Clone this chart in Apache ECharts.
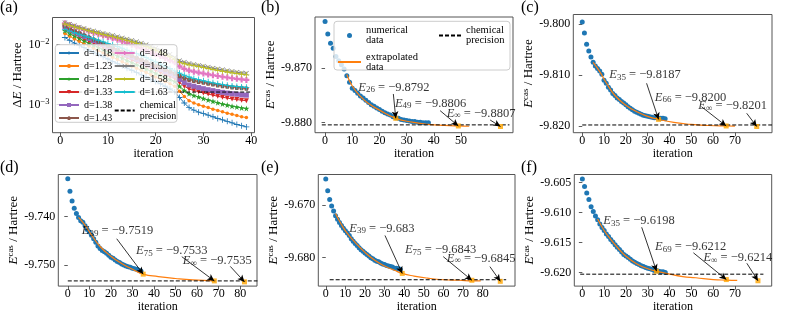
<!DOCTYPE html>
<html lang="en">
<head>
    <meta charset="UTF-8">
    <title>CAS energy convergence</title>
    <style>
        html, body { margin: 0; padding: 0; background: #fff; }
        #main { width: 785px; height: 314px; }
    </style>
</head>
<body>
<div id="main"></div>
<script src="https://cdn.jsdelivr.net/npm/echarts@6.0.0/dist/echarts.min.js"></script>
<script>
// ---------- data ----------
// (a) energy error vs iteration (1..39) for each bond length, in mHa
var bondLabels = ['d=1.18', 'd=1.23', 'd=1.28', 'd=1.33', 'd=1.38', 'd=1.43', 'd=1.48', 'd=1.53', 'd=1.58', 'd=1.63'];
var dE118 = [13.0,11.6,10.5,9.6,8.8,8.1,7.4,6.8,6.2,5.7, 5.2,4.8,4.4,4.0,3.7,3.4,3.1,2.85,2.6,2.4, 2.2,2.0,1.8,1.6,1.3,1.05,0.88,0.8,0.74,0.7, 0.66,0.62,0.58,0.55,0.52,0.49,0.46,0.44,0.42];
var dE123 = [15.2,13.6,12.3,11.2,10.2,9.4,8.6,7.9,7.2,6.6, 6.1,5.6,5.1,4.7,4.3,4.0,3.7,3.4,3.1,2.85, 2.6,2.4,2.2,2.0,1.65,1.35,1.15,1.05,0.98,0.93, 0.88,0.83,0.79,0.75,0.71,0.68,0.65,0.62,0.6];
var dE128 = [16.9,15.2,13.8,12.6,11.5,10.5,9.7,8.9,8.2,7.5, 6.9,6.4,5.9,5.4,5.0,4.6,4.2,3.9,3.6,3.3, 3.05,2.8,2.6,2.4,2.0,1.7,1.5,1.4,1.32,1.25, 1.18,1.12,1.06,1.01,0.97,0.93,0.9,0.87,0.85];
var dE133 = [18.0,16.3,14.8,13.5,12.4,11.4,10.5,9.7,8.9,8.2, 7.6,7.0,6.5,6.0,5.5,5.1,4.7,4.3,4.0,3.7, 3.4,3.15,2.9,2.7,2.3,2.0,1.8,1.7,1.62,1.55, 1.48,1.42,1.36,1.31,1.27,1.23,1.2,1.17,1.15];
var dE138 = [19.6,17.8,16.2,14.8,13.6,12.5,11.5,10.6,9.8,9.0, 8.3,7.7,7.1,6.6,6.1,5.6,5.2,4.8,4.45,4.1, 3.8,3.5,3.25,3.0,2.6,2.3,2.1,2.0,1.9,1.82, 1.75,1.69,1.63,1.58,1.54,1.5,1.47,1.44,1.42];
var dE143 = [20.4,18.6,17.0,15.6,14.3,13.2,12.2,11.3,10.4,9.6, 8.9,8.2,7.6,7.0,6.5,6.0,5.6,5.2,4.8,4.45, 4.1,3.8,3.55,3.3,3.0,2.75,2.6,2.5,2.4,2.32, 2.24,2.17,2.1,2.04,1.99,1.95,1.91,1.88,1.85];
var dE148 = [22.4,21.0,19.7,18.5,17.4,16.4,15.5,14.7,14.0,13.3, 12.6,11.9,11.2,10.5,9.8,9.2,8.6,8.0,7.4,6.9, 6.4,5.9,5.4,5.0,4.3,3.9,3.65,3.5,3.38,3.26, 3.15,3.05,2.96,2.88,2.8,2.72,2.66,2.6,2.55];
var dE153 = [22.9,21.6,20.4,19.3,18.3,17.4,16.6,15.9,15.2,14.6, 14.0,13.4,12.8,12.2,11.6,11.0,10.4,9.8,9.2,8.6, 8.0,7.4,6.8,6.0,5.3,5.0,4.8,4.6,4.45,4.3, 4.15,4.0,3.87,3.75,3.63,3.52,3.42,3.34,3.3];
var dE158 = [21.8,20.6,19.5,18.5,17.6,16.8,16.0,15.3,14.6,14.0, 13.4,12.8,12.2,11.6,11.0,10.4,9.8,9.2,8.6,8.0, 7.4,6.8,6.2,5.6,5.0,4.75,4.55,4.4,4.25,4.1, 3.95,3.8,3.68,3.56,3.45,3.35,3.26,3.18,3.1];
var dE163 = [17.8,16.6,15.6,14.7,13.9,13.1,12.4,11.7,11.0,10.4, 9.8,9.2,8.6,8.0,7.5,7.0,6.5,6.0,5.5,5.1, 4.7,4.3,3.95,3.6,3.3,3.05,2.85,2.7,2.58,2.47, 2.37,2.28,2.2,2.13,2.07,2.02,1.98,1.95,1.92];
var chemA = 1.6;          // mHa
var chemA_span = [0, 40];
var ticksA_x = [0, 10, 20, 30, 40];
var ticksA_y = [0.001, 0.01];

// (b) numerical energies (iteration 0..38), extrapolation, marked points
var eB = [-9.8615,-9.8638,-9.8655,-9.8664,-9.8679,-9.8687,-9.8694,-9.8702,-9.8714,-9.8726, -9.8737,-9.8741,-9.8746,-9.8751,-9.8755,-9.8759,-9.8763,-9.8767,-9.8770,-9.8773, -9.8776,-9.8779,-9.8782,-9.8784,-9.8786,-9.8789,-9.8791,-9.8792,-9.8794,-9.8795, -9.8796,-9.8797,-9.8798,-9.8798,-9.8799,-9.8799,-9.8800,-9.8800,-9.8800];
var extB_x = [8, 10, 13, 16, 20, 26, 32, 38, 44, 49, 53];
var extB_y = [-9.8712,-9.8733,-9.8752,-9.8765,-9.8777,-9.8792,-9.8799,-9.8803,-9.8805,-9.8806,-9.88065];
var markB_x = [26, 49, 64.5];
var markB_sub = ['26', '49', '\u221e'];
var markB_val = ['-9.8792', '-9.8806', '-9.8807'];
var chemB = -9.8804, chemB_span = [-1.2, 67.8];
var ticksB_x = [0, 10, 20, 30, 40, 50];
var ticksB_y = [-9.880, -9.870];

// (c)
var eC = [-9.79955,-9.80171,-9.80394,-9.80525,-9.80643,-9.80748,-9.8082,-9.8087,-9.8092,-9.8098, -9.8110,-9.8116,-9.8124,-9.8129,-9.8136,-9.8140,-9.8145,-9.8148,-9.8152,-9.8155, -9.8158,-9.8162,-9.8165,-9.8168,-9.8171,-9.8173,-9.8175,-9.8177,-9.8179,-9.8180, -9.8181,-9.8182,-9.8183,-9.8184,-9.8184,-9.8185,-9.8185,-9.8185,-9.8186];
var extC_x = [5, 8, 11, 15, 20, 25, 30, 35, 42, 50, 58, 66, 70];
var extC_y = [-9.8075,-9.8093,-9.8115,-9.8140,-9.8159,-9.8172,-9.8181,-9.8187,-9.8193,-9.8197,-9.8199,-9.8200,-9.82003];
var markC_x = [35, 66, 80];
var markC_sub = ['35', '66', '\u221e'];
var markC_val = ['-9.8187', '-9.8200', '-9.8201'];
var chemC = -9.8198, chemC_span = [0, 87];
var ticksC_x = [0, 10, 20, 30, 40, 50, 60, 70];
var ticksC_y = [-9.820, -9.810, -9.800];

// (d)
var eD = [-9.7322,-9.7348,-9.7368,-9.7383,-9.7394,-9.7402,-9.7409,-9.7412,-9.7419,-9.7427, -9.7432,-9.7439,-9.7446,-9.7453,-9.7461,-9.7466,-9.7470,-9.7473,-9.7476,-9.7480, -9.7484,-9.7486,-9.7490,-9.7493,-9.7495,-9.7498,-9.7500,-9.7502,-9.7504,-9.7505, -9.7507,-9.7508,-9.7509,-9.7511,-9.7513];
var extD_x = [5, 8, 11, 15, 20, 25, 30, 35, 42, 50, 58, 68];
var extD_y = [-9.7402,-9.7418,-9.7438,-9.7462,-9.7482,-9.7497,-9.7509,-9.7519,-9.7524,-9.7528,-9.7531,-9.7533];
var markD_x = [35, 68, 82];
var markD_sub = ['39', '75', '\u221e'];
var markD_val = ['-9.7519', '-9.7533', '-9.7535'];
var chemD = -9.7533, chemD_span = [0, 88];
var ticksD_x = [0, 10, 20, 30, 40, 50, 60, 70, 80];
var ticksD_y = [-9.750, -9.740];

// (e)
var eE = [-9.66502,-9.66726,-9.66894,-9.67019,-9.67112,-9.67205,-9.6727,-9.6733,-9.6739,-9.6744, -9.6749,-9.6753,-9.6758,-9.6764,-9.6769,-9.6773,-9.6777,-9.6781,-9.6785,-9.6788, -9.6791,-9.6794,-9.6797,-9.6800,-9.6802,-9.6805,-9.6807,-9.6808,-9.6810,-9.6812, -9.6813,-9.6815,-9.6816,-9.6817,-9.6818,-9.6820,-9.6820,-9.6821,-9.6822];
var extE_x = [5, 8, 11, 15, 20, 25, 30, 35, 39, 45, 52, 60, 68, 75, 79];
var extE_y = [-9.6716,-9.6737,-9.6754,-9.6771,-9.6790,-9.6805,-9.6816,-9.6824,-9.6830,-9.6835,-9.6839,-9.6842,-9.6843,-9.6844,-9.6844];
var markE_x = [39, 74.5, 89];
var markE_sub = ['39', '75', '\u221e'];
var markE_val = ['-9.683', '-9.6843', '-9.6845'];
var chemE = -9.6842, chemE_span = [2, 92];
var ticksE_x = [0, 10, 20, 30, 40, 50, 60, 70, 80];
var ticksE_y = [-9.680, -9.670];

// (f)
var eF = [-9.6044,-9.60565,-9.60674,-9.60783,-9.60903,-9.60985,-9.61057,-9.6112,-9.61193,-9.6125, -9.61302,-9.6136,-9.6140,-9.6145,-9.61493,-9.6154,-9.6158,-9.6162,-9.6166,-9.6170, -9.61728,-9.6175,-9.6178,-9.6181,-9.6183,-9.6185,-9.6187,-9.6189,-9.6190,-9.6192, -9.6193,-9.6194,-9.6195,-9.6197,-9.6197,-9.6198,-9.6199,-9.6199,-9.6200];
var extF_x = [7, 10, 13, 16, 20, 25, 30, 34, 40, 46, 52, 60, 66, 71];
var extF_y = [-9.6111,-9.6130,-9.6145,-9.6158,-9.6173,-9.6186,-9.6194,-9.6198,-9.6203,-9.6207,-9.6209,-9.6212,-9.6213,-9.62135];
var markF_x = [34, 66, 80.5];
var markF_sub = ['35', '69', '\u221e'];
var markF_val = ['-9.6198', '-9.6212', '-9.6214'];
var chemF = -9.6203, chemF_span = [-1, 83];
var ticksF_x = [0, 10, 20, 30, 40, 50, 60, 70];
var ticksF_y = [-9.620, -9.615, -9.610, -9.605];

// ---------- style / layout ----------
var SERIF = 'Liberation Serif';
var TAB = ['#1f77b4', '#ff7f0e', '#2ca02c', '#d62728', '#9467bd', '#8c564b', '#e377c2', '#7f7f7f', '#bcbd22', '#17becf'];
var PLUS = 'path://M4.3,0h1.4v4.3h4.3v1.4h-4.3v4.3h-1.4v-4.3h-4.3v-1.4h4.3z';
var STAR = 'path://M5,0L6.2,3.6L10,3.6L6.9,5.8L8.1,9.5L5,7.2L1.9,9.5L3.1,5.8L0,3.6L3.8,3.6Z';
var PENT = 'path://M5,0L10,3.8L8.1,10L1.9,10L0,3.8Z';
var PLUSF = 'path://M3.2,0h3.6v3.2h3.2v3.6h-3.2v3.2h-3.6v-3.2h-3.2v-3.6h3.2z';
var XMARK = 'path://M1,0L5,4L9,0L10,1L6,5L10,9L9,10L5,6L1,10L0,9L4,5L0,1Z';
var markersA = [PLUS, 'circle', STAR, 'triangle', 'rect', PENT, PLUSF, XMARK, PLUS, PLUS];
var markerSizeA = [6, 3.5, 6, 5, 5, 5, 6, 5, 6, 6];
var seriesA = [dE118, dE123, dE128, dE133, dE138, dE143, dE148, dE153, dE158, dE163];

var eqRich = {
    e: { fontFamily: SERIF, fontStyle: 'italic', fontSize: 12.5, lineHeight: 14, color: '#000' },
    s: { fontFamily: SERIF, fontSize: 9, lineHeight: 9, verticalAlign: 'bottom', color: '#000' },
    t: { fontFamily: SERIF, fontSize: 12.5, lineHeight: 14, color: '#000' }
};
var nameRich = {
    e: { fontFamily: SERIF, fontStyle: 'italic', fontSize: 13, lineHeight: 15, color: '#000' },
    p: { fontFamily: SERIF, fontSize: 9, lineHeight: 9, verticalAlign: 'top', color: '#000' },
    d: { fontFamily: SERIF, fontSize: 13, lineHeight: 15, color: '#000' },
    t: { fontFamily: SERIF, fontSize: 13, lineHeight: 15, color: '#000' }
};

var layout = {
    b: { box: { left: 315, top: 17, width: 198, height: 115.7 }, x: [-3.7, 69.1], y: [-9.88183, -9.86068],
         text: [[12.2, -9.87353], [25.7, -9.87645], [44.7, -9.87828]],
         arrow: [[25.1, -9.87475], [42.3, -9.8778], [60.7, -9.87951]] },
    c: { box: { left: 573.3, top: 14.5, width: 198.7, height: 118.2 }, x: [-4.1, 87.0], y: [-9.82132, -9.79807],
         text: [[12.4, -9.80997], [33.3, -9.81436], [53.2, -9.81607]],
         arrow: [[29.5, -9.8116], [54.7, -9.81621], [75.4, -9.8175]] },
    d: { box: { left: 58.3, top: 174.5, width: 198.7, height: 113.8 }, x: [-4.4, 87.8], y: [-9.75437, -9.73134],
         text: [[6.5, -9.7430], [31.7, -9.74717], [53.4, -9.7492]],
         arrow: [[22.7, -9.7446], [52.9, -9.7483], [75.4, -9.7503]] },
    e: { box: { left: 318.3, top: 174.5, width: 196.7, height: 113.8 }, x: [-3.8, 96.5], y: [-9.68541, -9.66418],
         text: [[12, -9.6744], [40.4, -9.67858], [61.7, -9.68013]],
         arrow: [[30.2, -9.67578], [59.9, -9.6798], [83.7, -9.6817]] },
    f: { box: { left: 574.3, top: 174.5, width: 197.4, height: 113.8 }, x: [-3.7, 86.8], y: [-9.62229, -9.60366],
         text: [[9.6, -9.61139], [33.3, -9.61574], [55.5, -9.61755]],
         arrow: [[27.2, -9.61247], [50.9, -9.61673], [75.4, -9.61848]] }
};

var energyPanels = [
    { k: 'b', e: eB, ex: extB_x, ey: extB_y, mx: markB_x, ms: markB_sub, mv: markB_val, chem: chemB, span: chemB_span, tx: ticksB_x, ty: ticksB_y },
    { k: 'c', e: eC, ex: extC_x, ey: extC_y, mx: markC_x, ms: markC_sub, mv: markC_val, chem: chemC, span: chemC_span, tx: ticksC_x, ty: ticksC_y },
    { k: 'd', e: eD, ex: extD_x, ey: extD_y, mx: markD_x, ms: markD_sub, mv: markD_val, chem: chemD, span: chemD_span, tx: ticksD_x, ty: ticksD_y },
    { k: 'e', e: eE, ex: extE_x, ey: extE_y, mx: markE_x, ms: markE_sub, mv: markE_val, chem: chemE, span: chemE_span, tx: ticksE_x, ty: ticksE_y },
    { k: 'f', e: eF, ex: extF_x, ey: extF_y, mx: markF_x, ms: markF_sub, mv: markF_val, chem: chemF, span: chemF_span, tx: ticksF_x, ty: ticksF_y }
];

// ---------- build option ----------
var grids = [], xAxes = [], yAxes = [], series = [];

function gridOf(box) {
    return { left: box.left, top: box.top, width: box.width, height: box.height,
             show: true, borderColor: '#555', borderWidth: 1, backgroundColor: 'transparent' };
}
function xAxisOf(i, ext, ticks) {
    return {
        type: 'value', gridIndex: i, min: ext[0], max: ext[1],
        name: 'iteration', nameLocation: 'middle', nameGap: 12,
        nameTextStyle: { fontFamily: SERIF, fontSize: 12, color: '#000' },
        axisLine: { show: false }, splitLine: { show: false },
        axisTick: { show: true, length: 3.5, customValues: ticks, lineStyle: { color: '#333', width: 0.8 } },
        axisLabel: { customValues: ticks, margin: 2, fontFamily: SERIF, fontSize: 12, color: '#000' }
    };
}
function eqText(sub, val) {
    return '{e|E}{s|' + sub + '}{t| = \u2212' + val.replace('-', '') + '}';
}
// plain line entries in a legend: hide the marker ECharts adds in the middle
function lineOnly(name) {
    return { name: name, itemStyle: { opacity: 0 } };
}
function legendCol(left, top, names, opt) {
    return Object.assign({
        orient: 'vertical', left: left, top: top, padding: 0, selectedMode: false, z: 4,
        itemWidth: 20, itemHeight: 5, itemGap: 2,
        textStyle: { fontFamily: SERIF, fontSize: 10, lineHeight: 11, color: '#000' },
        data: names
    }, opt || {});
}

// panel (a)
grids.push(gridOf({ left: 52.5, top: 17.5, width: 202, height: 115.2 }));
xAxes.push(xAxisOf(0, [-1.6, 40.7], ticksA_x));
yAxes.push({
    type: 'log', logBase: 10, gridIndex: 0, min: 0.000336, max: 0.028,
    name: '{d|\u0394}{e|E}{t| / Hartree}', nameLocation: 'middle', nameRotate: 90, nameGap: 21,
    nameTextStyle: { rich: nameRich },
    axisLine: { show: false }, splitLine: { show: false },
    axisTick: { show: true, length: 3.5, customValues: ticksA_y, lineStyle: { color: '#333', width: 0.8 } },
    axisLabel: {
        customValues: ticksA_y, margin: 3,
        formatter: function (v) {
            var p = Math.round(Math.log10(v));
            return '{b|10}{p|\u2212' + Math.abs(p) + '}';
        },
        rich: {
            b: { fontFamily: SERIF, fontSize: 12, lineHeight: 14, verticalAlign: 'bottom', color: '#000' },
            p: { fontFamily: SERIF, fontSize: 8.5, lineHeight: 9, verticalAlign: 'top', color: '#000' }
        }
    }
});
seriesA.forEach(function (vals, k) {
    series.push({
        name: bondLabels[k], type: 'line', xAxisIndex: 0, yAxisIndex: 0,
        data: vals.map(function (v, i) { return [i + 1, v / 1000]; }),
        symbol: markersA[k], symbolSize: markerSizeA[k], symbolRotate: markersA[k] === 'triangle' ? 180 : 0,
        showAllSymbol: true, z: 2 + k * 0.01,
        lineStyle: { color: TAB[k], width: 1 }, itemStyle: { color: TAB[k] }
    });
});
series.push({
    name: 'chemical\nprecision', type: 'line', xAxisIndex: 0, yAxisIndex: 0,
    data: [[chemA_span[0], chemA / 1000], [chemA_span[1], chemA / 1000]], symbol: 'none', z: 2.5,
    lineStyle: { color: '#000', width: 1, type: [4, 2] }
});

// panels (b)-(f)
energyPanels.forEach(function (p, n) {
    var gi = n + 1, L = layout[p.k];
    grids.push(gridOf(L.box));
    xAxes.push(xAxisOf(gi, L.x, p.tx));
    yAxes.push({
        type: 'value', gridIndex: gi, min: L.y[0], max: L.y[1],
        name: '{e|E}{p|cas}{t| / Hartree}', nameLocation: 'middle', nameRotate: 90, nameGap: 36,
        nameTextStyle: { rich: nameRich },
        axisLine: { show: false }, splitLine: { show: false },
        axisTick: { show: true, length: 3.5, customValues: p.ty, lineStyle: { color: '#333', width: 0.8 } },
        axisLabel: { customValues: p.ty, margin: 3, fontFamily: SERIF, fontSize: 12, color: '#000',
                     formatter: function (v) { return v.toFixed(3); } }
    });
    series.push({
        name: 'numerical\ndata', type: 'scatter', xAxisIndex: gi, yAxisIndex: gi,
        data: p.e.map(function (v, i) { return [i, v]; }),
        symbolSize: 5, itemStyle: { color: '#1f77b4', opacity: 1 }, z: 2
    });
    series.push({
        name: 'extrapolated\ndata', type: 'line', xAxisIndex: gi, yAxisIndex: gi,
        data: p.ex.map(function (x, i) { return [x, p.ey[i]]; }),
        smooth: true, symbol: 'none', z: 3,
        lineStyle: { color: '#ff7f0e', width: 1.2 }, itemStyle: { color: '#ff7f0e' }
    });
    series.push({
        name: 'chemical\nprecision', type: 'line', xAxisIndex: gi, yAxisIndex: gi,
        data: [[p.span[0], p.chem], [p.span[1], p.chem]], symbol: 'none', z: 3.2,
        lineStyle: { color: '#000', width: 1, type: [4, 2] }
    });
    series.push({
        name: 'E points', type: 'scatter', xAxisIndex: gi, yAxisIndex: gi,
        data: p.mx.map(function (x, i) { return [x, parseFloat(p.mv[i])]; }),
        symbol: 'rect', symbolSize: 5, itemStyle: { color: '#ffa500' }, z: 3.3
    });
    series.push({
        name: 'notes', type: 'scatter', xAxisIndex: gi, yAxisIndex: gi, silent: true, z: 6,
        symbolSize: 0,
        data: L.text.map(function (t, i) {
            return { value: t, label: { show: true, position: 'right', distance: 0,
                     formatter: eqText(p.ms[i], p.mv[i]), rich: eqRich } };
        }),
        markLine: {
            silent: true, animation: false, symbol: ['none', 'arrow'], symbolSize: [5, 7],
            label: { show: false },
            lineStyle: { color: '#000', width: 0.8, type: 'solid' },
            data: L.arrow.map(function (a, i) {
                return [{ coord: a }, { coord: [p.mx[i], parseFloat(p.mv[i])] }];
            })
        }
    });
});

var tagPos = [['(a)', 0, 0], ['(b)', 261, 0], ['(c)', 521, 0], ['(d)', 0, 160], ['(e)', 261, 160], ['(f)', 521, 160]];

// legend frames (matplotlib-style translucent boxes)
var frames = [
    { x: 55.3, y: 44.7, w: 121.7, h: 77.6 },
    { x: 334, y: 21.3, w: 176, h: 48.7 }
];

var option = {
    animation: false,
    backgroundColor: '#fff',
    title: tagPos.map(function (t) {
        return { text: t[0], left: t[1], top: t[2], padding: 0,
                 textStyle: { fontFamily: SERIF, fontSize: 16, fontWeight: 'normal', color: '#000' } };
    }),
    graphic: frames.map(function (f) {
        return { type: 'rect', z: 3.5, silent: true,
                 shape: { x: f.x, y: f.y, width: f.w, height: f.h, r: 3 },
                 style: { fill: 'rgba(255,255,255,0.8)', stroke: '#ccc', lineWidth: 1 } };
    }),
    legend: [
        legendCol(58, 47.5, bondLabels.slice(0, 6)),
        legendCol(113.7, 47.5, bondLabels.slice(6).concat([lineOnly('chemical\nprecision')])),
        legendCol(337, 25, ['numerical\ndata', lineOnly('extrapolated\ndata')],
                  { itemWidth: 23, itemGap: 5.5, textStyle: { fontFamily: SERIF, fontSize: 10.5, lineHeight: 10, color: '#000' } }),
        legendCol(438, 25, [lineOnly('chemical\nprecision')],
                  { itemWidth: 22, textStyle: { fontFamily: SERIF, fontSize: 10.5, lineHeight: 10, color: '#000' } })
    ],
    grid: grids,
    xAxis: xAxes,
    yAxis: yAxes,
    series: series
};

var myChart = echarts.init(document.getElementById('main'));
myChart.setOption(option);
</script>
</body>
</html>
